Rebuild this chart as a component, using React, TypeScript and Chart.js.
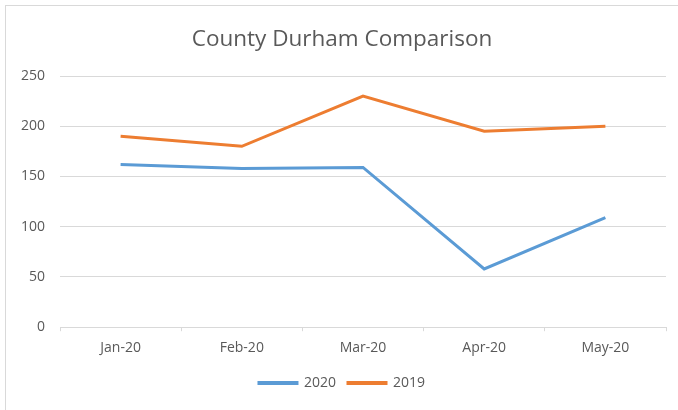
import React, { useEffect, useRef } from "react";
import { Chart, registerables } from "chart.js";

Chart.register(...registerables);

const categories = ["Jan-20", "Feb-20", "Mar-20", "Apr-20", "May-20"];
const series2020 = [162, 158, 159, 58, 109];
const series2019 = [190, 180, 230, 195, 200];
const yTicks = [0, 50, 100, 150, 200, 250];
const titleText = "County Durham Comparison";

const FONT = "'Open Sans', 'Liberation Sans', sans-serif";
const TEXT = "#595959";
const GRID = "#d9d9d9";

export default function App() {
  const ref = useRef<HTMLCanvasElement | null>(null);

  useEffect(() => {
    if (!ref.current) return;
    const chart = new Chart(ref.current, {
      type: "line",
      data: {
        labels: categories,
        datasets: [
          {
            label: "2020",
            data: series2020,
            borderColor: "#5B9BD5",
            backgroundColor: "#5B9BD5",
            borderWidth: 3,
            pointRadius: 0,
            tension: 0,
          },
          {
            label: "2019",
            data: series2019,
            borderColor: "#ED7D31",
            backgroundColor: "#ED7D31",
            borderWidth: 3,
            pointRadius: 0,
            tension: 0,
          },
        ],
      },
      options: {
        animation: false,
        responsive: false,
        layout: { padding: { top: 16, left: 18, right: 12, bottom: 10 } },
        plugins: {
          title: {
            display: true,
            text: titleText,
            color: TEXT,
            font: { family: FONT, size: 22.5, weight: "normal" },
            padding: { top: 10, bottom: 23 },
          },
          legend: {
            position: "bottom",
            labels: {
              color: TEXT,
              font: { family: FONT, size: 14 },
              boxWidth: 38,
              boxHeight: 1,
              padding: 12,
            },
          },
          tooltip: { enabled: false },
        },
        scales: {
          x: {
            offset: true,
            grid: {
              display: true,
              offset: true,
              drawOnChartArea: false,
              drawTicks: true,
              tickLength: 4,
              color: GRID,
            },
            border: { display: true, color: GRID },
            ticks: {
              color: TEXT,
              font: { family: FONT, size: 14 },
              padding: 8,
              maxRotation: 0,
            },
          },
          y: {
            min: 0,
            max: 250,
            afterBuildTicks: (scale: any) => {
              scale.ticks = yTicks.map((v) => ({ value: v }));
            },
            afterFit: (scale: any) => {
              scale.width = 42;
            },
            grid: { color: GRID, drawTicks: false },
            border: { display: false },
            ticks: {
              color: TEXT,
              font: { family: FONT, size: 14 },
              padding: 15,
            },
          },
        },
      },
    });
    return () => chart.destroy();
  }, []);

  return (
    <div
      style={{
        position: "fixed",
        left: 0,
        top: 0,
        width: 678,
        height: 410,
        background: "#fff",
        overflow: "hidden",
      }}
    >
      <div
        style={{
          position: "absolute",
          left: 5,
          top: 5,
          width: 720,
          height: 460,
          border: "1px solid #d9d9d9",
        }}
      />
      <canvas
        ref={ref}
        width={678}
        height={410}
        style={{ position: "absolute", left: 0, top: 0, width: 678, height: 410 }}
      />
    </div>
  );
}
